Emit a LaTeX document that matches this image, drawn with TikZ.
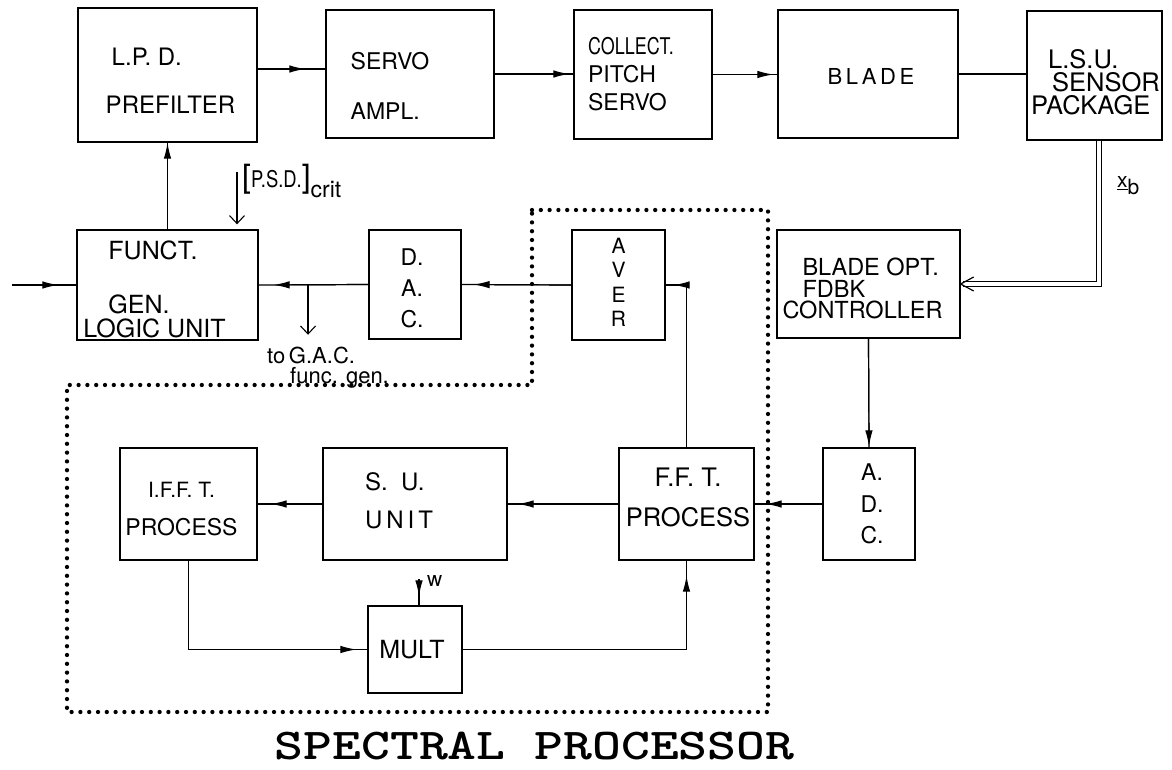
\documentclass[tikz,border=0pt]{standalone}
\usepackage{fontspec}
\usepackage{graphicx}
\setmainfont{TeX Gyre Heros}
\usetikzlibrary{arrows.meta,calc}
\newcommand{\myfs}[2]{\fontsize{#1}{#2}\selectfont}
\begin{document}
\begin{tikzpicture}[x=1pt,y=-1pt,
  box/.style={draw, line width=1.3pt, inner sep=0pt},
  lbl/.style={align=left, inner sep=0pt},
  lblc/.style={align=center, inner sep=0pt},
  ln/.style={line width=1.2pt},
  marr/.style={ln, postaction={draw, shorten >=#1, -{Latex[length=16pt,width=7.5pt]}}},
  marr/.default=10pt,
  oarr/.style={ln, shorten >=5pt, -{Straight Barb[length=8pt,width=15pt,line width=1.1pt]}},
  sp/.style={line width=4.3pt, dash pattern=on 0pt off 8.8pt, line cap=round},
  dbl/.style={double, double distance=4pt, line width=1pt},
  txt/.style={inner sep=0pt, anchor=west}
]
\useasboundingbox (0,0) rectangle (1172,770);

% top row
\node[box, minimum width=179pt, minimum height=134pt,
  label={[lbl, font=\myfs{24}{48}, xshift=3pt, yshift=-6pt]center:{\hspace*{6pt}L.P. D.\\PREFILTER}}] (lpd) at (167.5,75) {};
\node[box, minimum width=168pt, minimum height=128pt,
  label={[lbl, font=\myfs{23}{50}, xshift=-20pt, yshift=-12pt]center:{SERVO\\AMPL.}}] (servo) at (410,74) {};
\node[box, minimum width=138pt, minimum height=129pt,
  label={[lbl, font=\myfs{23}{28}, xshift=-12pt, yshift=0pt]center:{\scalebox{0.78}[1]{\myfs{23}{28}COLLECT.}\\PITCH\\SERVO}}] (collect) at (643,74.5) {};
\node[box, minimum width=180pt, minimum height=128pt,
  label={[lbl, font=\myfs{22}{22}, xshift=3pt, yshift=-2pt]center:{B\,L\,A\,D\,E}}] (blade) at (868,74) {};
\node[box, minimum width=135pt, minimum height=129pt,
  label={[lbl, font=\myfs{25.5}{23}, xshift=1pt, yshift=-7pt]center:{\hspace*{17pt}L.S.U.\\\hspace*{21pt}SENSOR\\PACKAGE}}] (lsu) at (1094.5,75.5) {};

% middle row
\node[box, minimum width=181pt, minimum height=110pt,
  label={[lbl, font=\myfs{25}{24}, xshift=-13pt, yshift=-4pt]center:{\hspace*{25pt}FUNCT.\\[30pt]\hspace*{25pt}GEN.\\LOGIC UNIT}}] (funct) at (167.5,285) {};
\node[box, minimum width=92pt, minimum height=109pt,
  label={[lblc, font=\myfs{23}{31}, xshift=-3pt, yshift=-4pt]center:{D.\\A.\\C.}}] (dac) at (415,284.5) {};
\node[box, minimum width=93pt, minimum height=110pt,
  label={[lblc, font=\myfs{21}{24.5}, yshift=2.5pt]center:{A\\V\\E\\R}}] (aver) at (618.5,285) {};
\node[box, minimum width=183pt, minimum height=108pt,
  label={[lbl, font=\myfs{23.5}{21.5}, xshift=-6pt, yshift=-4.5pt]center:{\hspace*{20pt}BLADE OPT.\\\hspace*{20pt}FDBK\\CONTROLLER}}] (bopt) at (868.5,284) {};

% bottom row
\node[box, minimum width=137pt, minimum height=112pt,
  label={[lblc, font=\myfs{23}{38}, xshift=-7pt, yshift=-5pt]center:{{\myfs{21}{38}I.F.F. T.}\\PROCESS}}] (ifft) at (188.5,504) {};
\node[box, minimum width=184pt, minimum height=112pt,
  label={[lbl, font=\myfs{24}{38}, xshift=-16pt, yshift=3pt]center:{S.\ \ U.\\U\,N\,I\,T}}] (su) at (415,504) {};
\node[box, minimum width=135pt, minimum height=112pt,
  label={[lblc, font=\myfs{25.5}{40}, xshift=1.5pt, yshift=7pt]center:{F.F. T.\\PROCESS}}] (fft) at (686.5,504) {};
\node[box, minimum width=92pt, minimum height=112pt,
  label={[lblc, font=\myfs{23}{31.5}, xshift=3pt]center:{A.\\D.\\C.}}] (adc) at (869,504) {};
\node[box, minimum width=94pt, minimum height=87pt,
  label={[lblc, font=\myfs{25}{25}, xshift=-3pt]center:{MULT}}] (mult) at (415,649.5) {};

% spectral processor boundary
\draw[sp] (532,210) -- (768,210) -- (768,712) -- (67,712) -- (67,385) -- (532,385) -- cycle;
\node[inner sep=0pt, font=\ttfamily\bfseries\myfs{44}{44}, xscale=1.25] (title) at (534.5,746) {SPECTRAL PROCESSOR};

% connectors
\coordinate (inp) at (12,285);
\draw[marr=18pt] (inp) -- (funct.west);
\draw[marr=0pt] (funct.north) -- (lpd.south);
\draw[marr=20pt] ([yshift=6pt]lpd.east) -- ([yshift=6pt]lpd.east -| servo.west);
\draw[marr=4pt] (servo.east) -- (servo.east -| collect.west);
\draw[marr=4pt] (collect.east) -- (collect.east -| blade.west);
\draw[ln] (blade.east) -- (blade.east -| lsu.west);

\coordinate (xo) at ([xshift=4.5pt]lsu.south);
\draw[dbl] (xo) |- ([xshift=2pt]bopt.east);
\draw[ln] ([shift={(13,-7)}]bopt.east) -- (bopt.east) -- ([shift={(13,7)}]bopt.east);
\node[txt, font=\myfs{21}{21}] (xb) at (1117,186) {\underline{x}\raisebox{-7pt}{b}};

\draw[marr=1pt] (bopt.south) -- (adc.north);
\draw[marr=11pt] (adc.west) -- (fft.east);
\draw[marr=10pt] (fft.west) -- (su.east);
\draw[marr=13pt] (su.west) -- (ifft.east);
\draw[marr=11pt] (ifft.south) |- (mult.west);
\draw[marr=15pt] (mult.east) -| (fft.south);
\draw[marr=8pt] (fft.north) |- (aver.east);
\draw[marr=12pt] (aver.west) -- (dac.east);
\draw[marr=15pt] (dac.west) -- (funct.east);

\coordinate (j) at ($(funct.east)!0.45!(dac.west)$);
\draw[oarr] (j) -- ++(0,55);
\node[txt, font=\myfs{22}{22}] (gac1) at (267,355) {to\,G.A.C.};
\node[txt, font=\myfs{22}{22}] (gac2) at (290,378) {func. gen.};

\coordinate (wsrc) at ([xshift=4pt,yshift=26pt]mult.north);
\draw[marr=9pt] (wsrc) -- (wsrc |- mult.north);
\node[txt, font=\myfs{21}{21}] (wl) at (427,581) {w};

\coordinate (psd) at ([xshift=69.5pt,yshift=57pt]funct.north);
\draw[oarr] (psd) -- (psd |- funct.north);
\node[inner sep=0pt, anchor=base west, font=\myfs{23}{23}] (psdl) at (242,188)
  {{\myfs{32}{32}[}\scalebox{0.8}[1]{P.S.D.}{\myfs{32}{32}]}\raisebox{-10pt}{crit}};
\end{tikzpicture}
\end{document}
